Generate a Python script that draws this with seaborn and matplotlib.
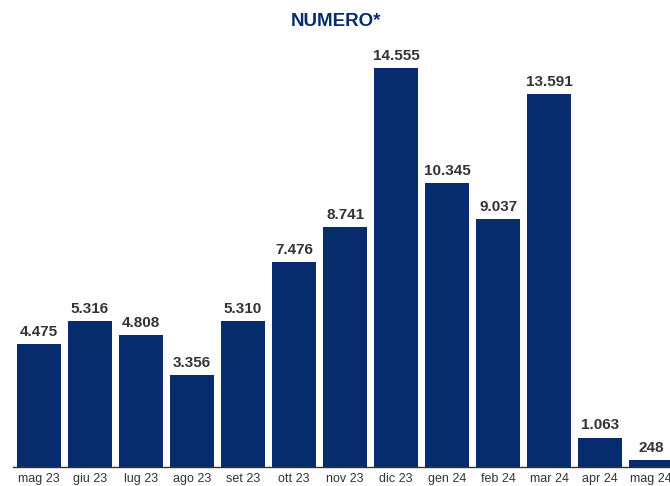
import matplotlib
matplotlib.use("Agg")
import matplotlib.pyplot as plt
import seaborn as sns
import pandas as pd
from matplotlib import font_manager

months = ["mag 23", "giu 23", "lug 23", "ago 23", "set 23", "ott 23", "nov 23",
          "dic 23", "gen 24", "feb 24", "mar 24", "apr 24", "mag 24"]
values = [4475, 5316, 4808, 3356, 5310, 7476, 8741, 14555, 10345, 9037, 13591, 1063, 248]
labels = ["4.475", "5.316", "4.808", "3.356", "5.310", "7.476", "8.741", "14.555",
          "10.345", "9.037", "13.591", "1.063", "248"]
title = "NUMERO*"

sns.set_theme(style="white")
names = {f.name for f in font_manager.fontManager.ttflist}
fam = "Liberation Sans Narrow" if "Liberation Sans Narrow" in names else "Liberation Sans"
plt.rcParams['font.family'] = [fam, 'DejaVu Sans']

navy = "#072C6E"
W, H = 670, 486
fig = plt.figure(figsize=(W / 100, H / 100), dpi=100)
ax = fig.add_axes([13 / W, (H - 467) / H, (670 - 13) / W, (467 - 40) / H])

df = pd.DataFrame({"mese": months, "valore": values})
sns.barplot(data=df, x="mese", y="valore", color=navy, saturation=1, width=0.863,
            linewidth=0, ax=ax)

ax.set_xlim(-0.51, 12.37)
ax.set_ylim(0, 15578)
for i, (v, lab) in enumerate(zip(values, labels)):
    ax.text(i, v + 200, lab, ha="center", va="bottom", fontsize=11, fontweight="bold", color="#333333")

ax.set_xlabel("")
ax.set_ylabel("")
ax.set_yticks([])
ax.tick_params(axis="x", length=0, pad=4, labelsize=9, labelcolor="#333333")
for s in ["top", "right", "left"]:
    ax.spines[s].set_visible(False)
ax.spines["bottom"].set_color("#333333")
ax.spines["bottom"].set_linewidth(1.0)

fig.text(336 / W, 1 - 22 / H, title, ha="center", va="center", fontsize=13.5, fontweight="bold", color=navy)

fig.savefig("out.png", dpi=100)
